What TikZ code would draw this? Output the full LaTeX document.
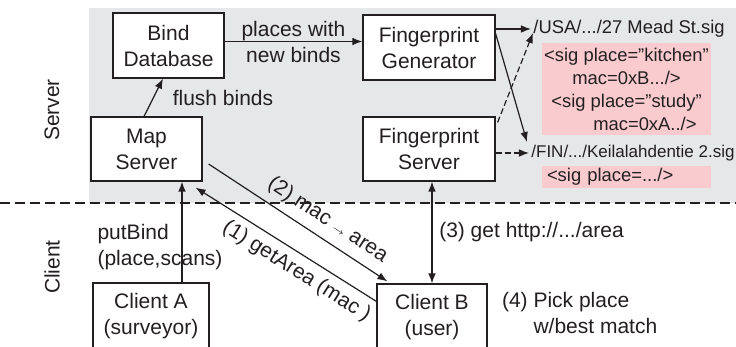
\documentclass[tikz,border=0pt]{standalone}
\usepackage{fontspec}
\setmainfont{Liberation Sans}
\usetikzlibrary{arrows.meta}
\tikzset{>={Latex[length=5pt,width=3.8pt]}}
\definecolor{servergray}{RGB}{230,231,232}
\definecolor{sigpink}{RGB}{249,203,206}
\definecolor{ink}{RGB}{35,31,32}
\tikzstyle{lbl}=[text=ink,font=\fontsize{10.5}{13}\selectfont]
\tikzstyle{box}=[lbl,draw=ink,fill=white,line width=0.6,inner sep=0,align=center]
\tikzstyle{flow}=[->,draw=ink,line width=0.6]
\tikzstyle{sigflow}=[flow,dash pattern=on 3pt off 1.5pt]
\tikzstyle{sigfile}=[text=ink,inner sep=1pt,anchor=west,font=\fontsize{9.2}{10}\selectfont]
\tikzstyle{sigbody}=[text=ink,fill=sigpink,inner sep=0,font=\fontsize{9.2}{11.5}\selectfont]

\begin{document}
\begin{tikzpicture}[x=0.5pt,y=-0.5pt] % pixel grid, origin top left
  \useasboundingbox (0,0) rectangle (736,347);
  \clip (0,0) rectangle (736,347); % client boxes run off the bottom

  % SERVER / CLIENT SPLIT
  \fill[servergray] (89,8) rectangle (736,203);
  \draw[ink,line width=0.6,dash pattern=on 5pt off 2.5pt] (0,203) -- (736,203);
  \node[lbl,rotate=90] (server) at (52,110) {Server};
  \node[lbl,rotate=90] (client) at (52,267) {Client};

  % SERVER BOXES
  \node[box,minimum width=55.5pt,minimum height=32.5pt] (bind) at (168.5,45.5) {Bind\\Database};
  \node[box,minimum width=55.5pt,minimum height=32pt] (map) at (146.5,149) {Map\\Server};
  \node[box,minimum width=66pt,minimum height=32.5pt] (fpgen) at (429,47.5) {Fingerprint\\Generator};
  \node[box,minimum width=66pt,minimum height=32pt] (fpserv) at (429,149) {Fingerprint\\Server};

  % CLIENT BOXES
  \node[box,minimum width=58pt,minimum height=33.5pt] (clientA) at (151,316.5) {Client A\\(surveyor)};
  \node[box,minimum width=55pt,minimum height=33.5pt] (clientB) at (432,317.5) {Client B\\(user)};
  \node[lbl,anchor=west,align=left] (pick) at (495,312.5) {(4) Pick place\\\hspace*{1.5em}w/best match};

  % SIGNATURE FILES
  \node[sigfile] (usa) at (531,29) {/USA/.../27 Mead St.sig};
  \node[sigbody,minimum width=84.5pt,minimum height=46pt,align=center] (usabody) at (626.5,89)
    {<sig place=”kitchen”\\mac=0xB.../>\\<sig place=”study”\\\hspace*{2em}mac=0xA../>};
  \node[sigfile,font=\fontsize{8.5}{10}\selectfont] (fin) at (529,153) {/FIN/.../Keilalahdentie 2.sig};
  \node[sigbody,minimum width=84.5pt,minimum height=11pt,text width=79.5pt,inner xsep=2.5pt,
        align=left] (finbody) at (626.5,177) {<sig place=.../>};

  % SERVER FLOWS
  \draw[flow] ([yshift=2pt]bind.east) coordinate (newbinds) -- (newbinds -| fpgen.west)
    node[lbl,midway,align=center] {places with\\new binds};
  \draw[flow] ([xshift=-1.25pt]map.north) -- ([xshift=-2.75pt]bind.south)
    node[lbl,midway,right=6pt] {flush binds};
  \draw[flow] (usa.west -| fpgen.east) -- (usa.west);
  \draw[flow] ([yshift=7pt]fpgen.east) -- ([xshift=-1pt,yshift=5.5pt]fin.west);
  \draw[sigflow] ([xshift=1pt,yshift=-3pt]fpserv.north east) -- ([xshift=1pt,yshift=-2pt]usa.west);
  \draw[sigflow] (fin.west -| fpserv.east) -- (fin.west);

  % CLIENT REQUESTS
  \draw[flow] ([xshift=15.5pt]clientA.north) coordinate (putbind) -- (putbind |- map.south)
    node[lbl,pos=0.35,xshift=-11pt,align=left] {putBind\\(place,scans)};
  \draw[flow] ([yshift=-9pt]clientB.north west) -- ([xshift=-3.5pt,yshift=-3pt]map.south east)
    node[lbl,pos=0.39,sloped,below=2.5pt,inner sep=1pt] {(1) getArea (mac )};
  \draw[flow] ([xshift=3pt,yshift=-7.5pt]map.east) -- ([xshift=5.5pt,yshift=1pt]clientB.north west)
    node[lbl,pos=0.61,sloped,above=3pt,inner sep=1pt] {(2) mac $\scriptscriptstyle\rightarrow$ area};
  \draw[flow,<->] (clientB.north) coordinate (gethttp) -- (gethttp |- fpserv.south)
    node[lbl,midway,right] {(3) get http://.../area};
\end{tikzpicture}
\end{document}
